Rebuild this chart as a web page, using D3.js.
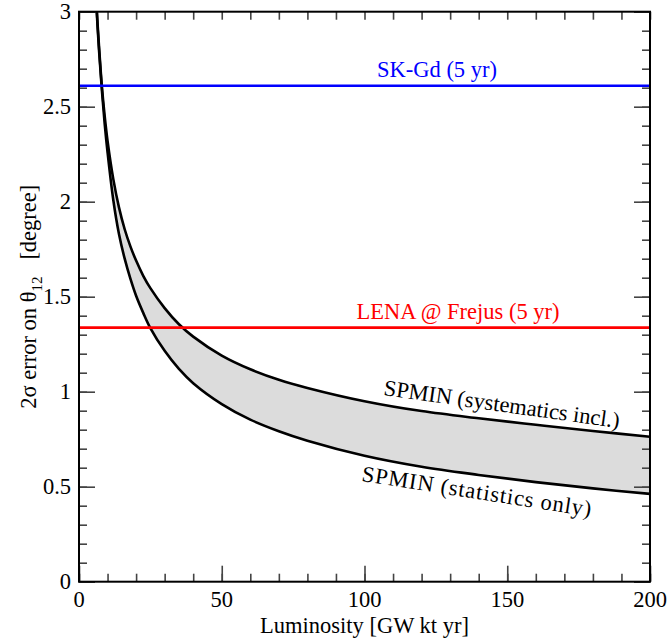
<!DOCTYPE html>
<html><head><meta charset="utf-8">
<script src="https://cdn.jsdelivr.net/npm/d3@7"></script>
<style>
html,body{margin:0;padding:0;background:#fff;}
svg text{font-family:"Liberation Serif","Times New Roman",serif;}
</style></head>
<body>
<svg id="chart" width="670" height="639"></svg>
<script>
// ---- data ----
const luminosity = [5.5, 6, 7, 8, 9, 10, 12, 14, 16, 18, 20, 22.5, 25, 30, 35, 40, 50, 60, 70, 80, 100, 120, 140, 160, 180, 200];
const statOnly   = [3.25, 3.06, 2.80, 2.59, 2.41, 2.26, 2.01, 1.83, 1.70, 1.595, 1.505, 1.415, 1.335, 1.215, 1.12, 1.045, 0.935, 0.853, 0.792, 0.742, 0.663, 0.605, 0.562, 0.524, 0.491, 0.462];
const systIncl   = [3.25, 3.07, 2.82, 2.61, 2.45, 2.32, 2.12, 1.97, 1.855, 1.765, 1.69, 1.61, 1.545, 1.44, 1.355, 1.29, 1.19, 1.118, 1.063, 1.02, 0.95, 0.898, 0.86, 0.826, 0.793, 0.763];
const skGd = 2.61;
const lenaFrejus = 1.337;
const xTickLabels = [0, 50, 100, 150, 200];
const yTickLabels = [0, 0.5, 1, 1.5, 2, 2.5, 3];
const xMinorTicks = d3.range(0, 201, 10);
const yMinorTicks = d3.range(0, 31, 1).map(d => d / 10);

// ---- layout ----
const svg = d3.select("#chart");
const m = {left: 79, right: 650, top: 11.7, bottom: 581.7};
const x = d3.scaleLinear().domain([0, 200]).range([m.left, m.right]);
const y = d3.scaleLinear().domain([0, 3]).range([m.bottom, m.top]);
const FS = 22.5;

svg.append("defs").append("clipPath").attr("id", "clip")
  .append("rect").attr("x", m.left).attr("y", m.top)
  .attr("width", m.right - m.left).attr("height", m.bottom - m.top);

const pts = luminosity.map((L, i) => ({L, lo: statOnly[i], hi: systIncl[i]}));
const g = svg.append("g").attr("clip-path", "url(#clip)");
const curve = d3.curveCatmullRom.alpha(0.5);

g.append("path").datum(pts)
  .attr("fill", "#dcdcdc")
  .attr("d", d3.area().x(d => x(d.L)).y0(d => y(d.lo)).y1(d => y(d.hi)).curve(curve));

const line = key => d3.line().x(d => x(d.L)).y(d => y(d[key])).curve(curve);
g.append("path").datum(pts).attr("fill", "none").attr("stroke", "#000").attr("stroke-width", 2.6).attr("d", line("hi"));
g.append("path").datum(pts).attr("fill", "none").attr("stroke", "#000").attr("stroke-width", 2.6).attr("d", line("lo"));

g.append("line").attr("x1", m.left).attr("x2", m.right).attr("y1", y(skGd)).attr("y2", y(skGd))
  .attr("stroke", "#0000ff").attr("stroke-width", 2.6);
g.append("line").attr("x1", m.left).attr("x2", m.right).attr("y1", y(lenaFrejus)).attr("y2", y(lenaFrejus))
  .attr("stroke", "#ff0000").attr("stroke-width", 2.6);

// ---- axes (ticks inward on all four sides) ----
const tickCol = "#444";
function ax(gen, tx, ty, vals, size) {
  const a = svg.append("g").attr("transform", `translate(${tx},${ty})`)
    .call(gen.tickValues(vals).tickSize(size).tickFormat(""));
  a.select(".domain").remove();
  a.selectAll(".tick line").attr("stroke", tickCol).attr("stroke-width", 1.6);
}
ax(d3.axisBottom(x), 0, m.bottom, xMinorTicks, -8);
ax(d3.axisBottom(x), 0, m.bottom, xTickLabels, -16);
ax(d3.axisTop(x), 0, m.top, xMinorTicks, -8);
ax(d3.axisLeft(y), m.left, 0, yMinorTicks, -8);
ax(d3.axisLeft(y), m.left, 0, yTickLabels, -16);
ax(d3.axisRight(y), m.right, 0, yMinorTicks, -8);
ax(d3.axisRight(y), m.right, 0, yTickLabels, -16);

svg.append("rect").attr("x", m.left).attr("y", m.top)
  .attr("width", m.right - m.left).attr("height", m.bottom - m.top)
  .attr("fill", "none").attr("stroke", "#000").attr("stroke-width", 2);

// tick labels
svg.append("g").selectAll("text").data(xTickLabels).join("text")
  .attr("x", d => x(d)).attr("y", 607).attr("text-anchor", "middle")
  .attr("font-size", FS).text(d => d);
svg.append("g").selectAll("text").data(yTickLabels).join("text")
  .attr("x", 71).attr("y", d => y(d) + 7.5).attr("text-anchor", "end")
  .attr("font-size", FS).text(d => d);

// axis titles
svg.append("text").attr("x", (m.left + m.right) / 2).attr("y", 633)
  .attr("text-anchor", "middle").attr("font-size", FS).text("Luminosity [GW kt yr]");
const yt = svg.append("text").attr("transform", `translate(36,${(m.top + m.bottom) / 2}) rotate(-90)`)
  .attr("text-anchor", "middle").attr("font-size", FS);
yt.append("tspan").text("2σ error on θ");
yt.append("tspan").attr("font-size", 15).attr("dy", 6).text("12");
yt.append("tspan").attr("dy", -6).text("\u00a0\u00a0\u00a0[degree]");

// line labels
svg.append("text").attr("x", 437).attr("y", 77).attr("text-anchor", "middle")
  .attr("font-size", FS).attr("fill", "#0000ff").text("SK-Gd (5 yr)");
svg.append("text").attr("x", 458).attr("y", 319).attr("text-anchor", "middle")
  .attr("font-size", FS).attr("fill", "#ff0000").text("LENA @ Frejus (5 yr)");

svg.append("text").attr("transform", "translate(383,395) rotate(8)")
  .attr("font-size", FS).attr("textLength", 238).attr("lengthAdjust", "spacing")
  .text("SPMIN (systematics incl.)");
svg.append("text").attr("transform", "translate(361,481) rotate(8.8)")
  .attr("font-size", FS).attr("textLength", 232).attr("lengthAdjust", "spacing")
  .text("SPMIN (statistics only)");
</script>
</body></html>
